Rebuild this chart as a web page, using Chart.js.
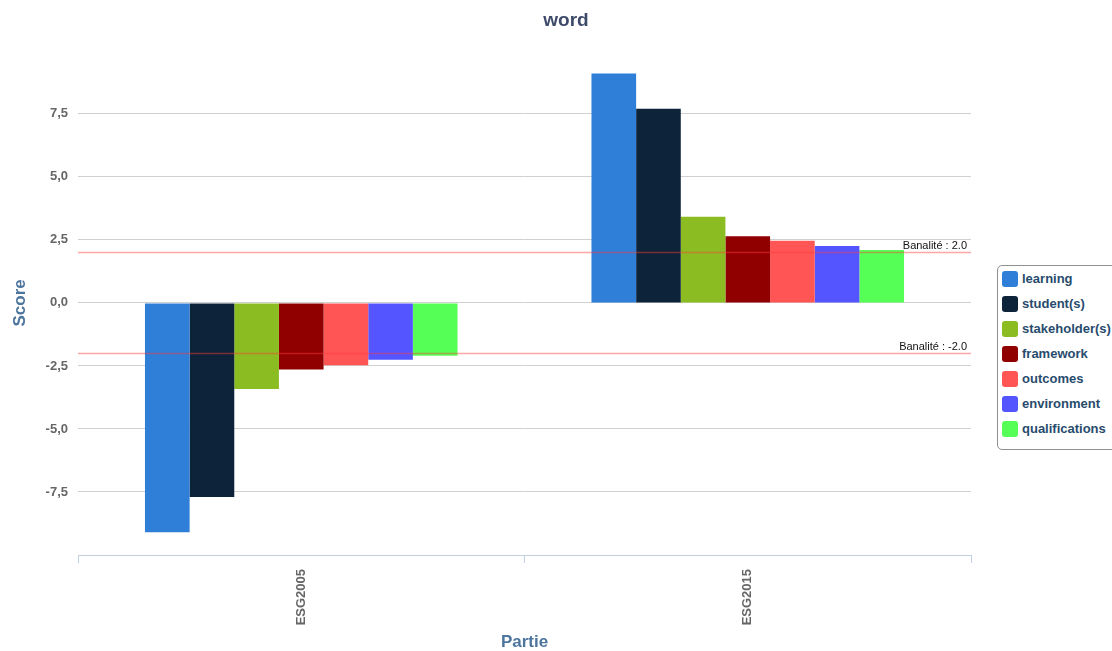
<!DOCTYPE html>
<html lang="fr">
<head>
<meta charset="utf-8">
<title>word</title>
<script src="https://cdn.jsdelivr.net/npm/chart.js@4.4.1/dist/chart.umd.min.js"></script>
<style>
  html, body { margin: 0; padding: 0; background: #fff; }
  body { width: 1112px; height: 651px; overflow: hidden; position: relative; }
  #legende {
    position: absolute; left: 997px; top: 265px; width: 140px;
    border: 1px solid #909090; border-radius: 5px;
    padding: 5px 0 3px 4px; background: #fff;
    font: bold 13px "Liberation Sans", Arial, sans-serif; color: #274b6d;
  }
  #legende .item { height: 25px; display: flex; align-items: flex-start; white-space: nowrap; }
  #legende .carre { width: 16px; height: 16px; border-radius: 3px; margin-right: 4px; flex: none; }
  #legende .txt { line-height: 16px; }
</style>
</head>
<body>
<canvas id="graficoMots" width="1132" height="651"></canvas>
<div id="legende"></div>

<script>
/* =========================
   DONNEES
========================= */
const parties = ['ESG2005', 'ESG2015'];
const mots = ['learning', 'student(s)', 'stakeholder(s)', 'framework', 'outcomes', 'environment', 'qualifications'];
const couleurs = ['#2f7ed8', '#0d233a', '#8bbc21', '#910000', '#ff5555', '#5555ff', '#55ff55'];
const scoresESG2005 = [-9.1, -7.7, -3.42, -2.64, -2.47, -2.26, -2.1];
const scoresESG2015 = [9.1, 7.7, 3.42, 2.64, 2.47, 2.26, 2.1];
const graduations = [-7.5, -5, -2.5, 0, 2.5, 5, 7.5];
const seuilsBanalite = [2, -2];

const POLICE = '"Liberation Sans", Arial, sans-serif';

/* =========================
   UTILITAIRES
========================= */
function formatNombre(v) {
  return v.toFixed(1).replace('.', ',');
}

// lignes "Banalité" par dessus les barres
const pluginBanalite = {
  id: 'banalite',
  afterDatasetsDraw(chart) {
    const { ctx, chartArea, scales } = chart;
    ctx.save();
    seuilsBanalite.forEach(s => {
      const y = Math.round(scales.y.getPixelForValue(s)) + 0.5;
      ctx.strokeStyle = 'rgba(255, 60, 60, 0.45)';
      ctx.lineWidth = 1.5;
      ctx.beginPath();
      ctx.moveTo(chartArea.left, y);
      ctx.lineTo(chartArea.right, y);
      ctx.stroke();
      ctx.fillStyle = '#111';
      ctx.font = '11px ' + POLICE;
      ctx.textAlign = 'right';
      ctx.textBaseline = 'alphabetic';
      ctx.fillText('Banalité : ' + s.toFixed(1), chartArea.right - 4, y - 4);
    });
    ctx.restore();
  }
};

/* =========================
   GRAPHIQUE
========================= */
const datasets = mots.map((mot, i) => ({
  label: mot,
  data: [scoresESG2005[i], scoresESG2015[i]],
  backgroundColor: couleurs[i],
  borderWidth: 0,
  categoryPercentage: 0.7,
  barPercentage: 1
}));

const graficoMots = new Chart(document.getElementById('graficoMots'), {
  type: 'bar',
  data: { labels: parties, datasets },
  options: {
    responsive: false,
    animation: false,
    layout: { padding: 0 },
    plugins: {
      legend: { display: false },
      tooltip: { enabled: false },
      title: {
        display: true,
        text: 'word',
        color: '#3e4a6a',
        font: { family: POLICE, size: 19, weight: 'bold' },
        padding: { top: 9, bottom: 19 }
      }
    },
    scales: {
      x: {
        grid: { drawOnChartArea: false, offset: true, tickLength: 8, color: '#c0d0e0' },
        border: { color: '#c0d0e0' },
        ticks: {
          minRotation: 90, maxRotation: 90, autoSkip: false, padding: 6,
          color: '#666', font: { family: POLICE, size: 13, weight: 'bold' }
        },
        title: {
          display: true, text: 'Partie', color: '#4d759e',
          font: { family: POLICE, size: 17, weight: 'bold', lineHeight: 1 },
          padding: { top: 0, bottom: 0 }
        },
        afterFit: s => { s.height = 96; }
      },
      y: {
        min: -10,
        max: 10,
        afterBuildTicks: s => { s.ticks = graduations.map(v => ({ value: v })); },
        grid: { color: '#d0d0d0', drawTicks: false },
        border: { display: false },
        ticks: {
          padding: 10, color: '#666',
          font: { family: POLICE, size: 13, weight: 'bold' },
          callback: v => formatNombre(v)
        },
        title: {
          display: true, text: 'Score', color: '#4d759e',
          font: { family: POLICE, size: 17, weight: 'bold', lineHeight: 1 },
          padding: { top: 12, bottom: 0 }
        },
        afterFit: s => { s.width = 78; }
      },
      // reserve la place de la legende a droite
      marge: {
        type: 'linear', position: 'right', display: true,
        grid: { display: false }, border: { display: false },
        ticks: { display: false },
        afterFit: s => { s.width = 161; }
      }
    }
  },
  plugins: [pluginBanalite]
});

/* =========================
   LEGENDE
========================= */
const legende = document.getElementById('legende');
graficoMots.data.datasets.forEach(ds => {
  const item = document.createElement('div');
  item.className = 'item';
  const carre = document.createElement('span');
  carre.className = 'carre';
  carre.style.background = ds.backgroundColor;
  const txt = document.createElement('span');
  txt.className = 'txt';
  txt.textContent = ds.label;
  item.appendChild(carre);
  item.appendChild(txt);
  legende.appendChild(item);
});
</script>
</body>
</html>
